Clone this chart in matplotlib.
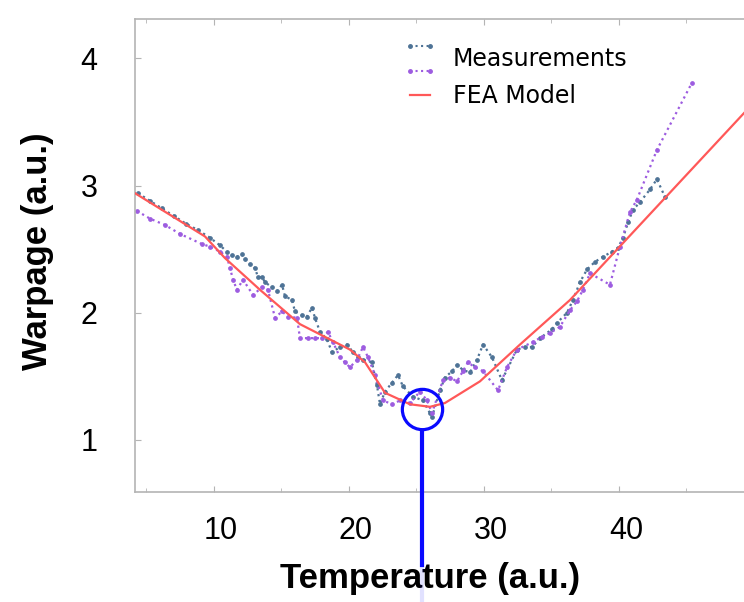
import matplotlib
matplotlib.use("Agg")
import matplotlib.pyplot as plt
from matplotlib.lines import Line2D
from matplotlib.transforms import ScaledTranslation

plt.rcParams['font.family'] = ['Liberation Sans', 'DejaVu Sans']

# measurement run 1 (blue-grey)
temp_a = [4.37, 5.26, 6.15, 7.04, 7.93, 8.81, 9.70, 10.44, 10.96, 11.33, 11.70, 12.07,
          12.30, 12.67, 13.04, 13.26, 13.56, 13.78, 14.30, 14.67, 15.04, 15.26, 15.78,
          16.00, 16.52, 16.89, 17.26, 17.48, 17.85, 18.37, 18.74, 19.33, 19.85, 20.30,
          20.67, 21.04, 21.70, 22.07, 22.30, 22.67, 23.19, 23.63, 24.00, 24.74, 25.48,
          26.00, 26.15, 26.74, 27.11, 27.63, 28.00, 28.44, 28.96, 29.48, 29.93, 30.59,
          31.33, 32.44, 33.04, 33.56, 34.15, 35.04, 35.41, 36.15, 36.59, 37.11, 37.63,
          38.22, 38.81, 39.48, 39.93, 40.30, 40.67, 41.04, 41.56, 42.30, 42.81, 43.41]
warp_a = [2.94, 2.88, 2.82, 2.76, 2.70, 2.65, 2.59, 2.53, 2.48, 2.45, 2.44, 2.46,
          2.42, 2.38, 2.35, 2.28, 2.28, 2.24, 2.20, 2.17, 2.22, 2.13, 2.10,
          2.01, 1.98, 1.97, 2.04, 1.96, 1.85, 1.79, 1.69, 1.73, 1.75, 1.69,
          1.65, 1.63, 1.61, 1.43, 1.28, 1.38, 1.45, 1.51, 1.42, 1.34, 1.31,
          1.21, 1.18, 1.39, 1.49, 1.54, 1.59, 1.55, 1.53, 1.63, 1.75, 1.65,
          1.47, 1.71, 1.73, 1.73, 1.80, 1.87, 1.92, 2.00, 2.10, 2.24, 2.34,
          2.40, 2.44, 2.48, 2.51, 2.59, 2.71, 2.81, 2.87, 2.97, 3.05, 2.91]

# measurement run 2 (purple)
temp_b = [4.30, 5.26, 6.37, 7.48, 9.11, 9.70, 10.44, 10.96, 11.19, 11.41, 11.70, 12.15,
          12.89, 13.56, 14.00, 14.52, 15.04, 15.48, 16.15, 16.37, 16.96, 17.48, 18.00,
          18.44, 18.81, 19.33, 19.70, 20.07, 20.59, 21.04, 21.41, 21.93, 22.52, 23.19,
          23.78, 24.52, 25.26, 25.78, 26.15, 26.96, 27.48, 28.00, 28.44, 28.81, 29.33,
          29.93, 31.04, 31.70, 32.44, 33.63, 34.30, 34.89, 35.63, 36.37, 36.89, 37.33,
          37.85, 39.33, 40.07, 40.81, 41.33, 42.81, 45.41]
warp_b = [2.80, 2.74, 2.69, 2.62, 2.54, 2.52, 2.48, 2.44, 2.35, 2.26, 2.18, 2.26,
          2.14, 2.20, 2.18, 1.96, 2.01, 1.97, 1.96, 1.80, 1.80, 1.80, 1.80,
          1.85, 1.77, 1.65, 1.61, 1.57, 1.63, 1.73, 1.65, 1.51, 1.31, 1.28,
          1.31, 1.29, 1.38, 1.31, 1.21, 1.47, 1.49, 1.46, 1.54, 1.61, 1.57,
          1.54, 1.39, 1.57, 1.71, 1.77, 1.81, 1.84, 1.89, 2.02, 2.09, 2.18,
          2.31, 2.22, 2.52, 2.79, 2.89, 3.28, 3.81]

# FEA model
temp_fea = [4.15, 9.33, 10.81, 13.41, 16.37, 20.07, 21.19, 22.67, 24.52, 26.00,
            27.11, 29.70, 32.67, 36.37, 49.26]
warp_fea = [2.94, 2.60, 2.43, 2.18, 1.91, 1.71, 1.61, 1.37, 1.28, 1.26,
            1.29, 1.46, 1.75, 2.10, 3.57]

# highlighted minimum
min_temp = 25.4
min_warp = 1.24

x_ticks = [10, 20, 30, 40]
y_ticks = [1, 2, 3, 4]

col_a = '#4e7396'
col_b = '#9d5ce0'
col_fea = '#ff5858'
col_mark = '#0a0aff'


class TwoLineHandler:
    # draws the two measurement handles stacked above each other
    def legend_artist(self, legend, orig_handle, fontsize, handlebox):
        x0 = -handlebox.xdescent
        y0 = -handlebox.ydescent
        w = handlebox.width
        yc = y0 + handlebox.height / 2
        for i, src in enumerate(orig_handle):
            yy = yc + (1 if i == 0 else -1) * 9
            ln = Line2D([x0, x0 + w], [yy, yy], color=src.get_color(), linestyle=':',
                        linewidth=1.5, marker='o', markersize=2.5)
            handlebox.add_artist(ln)
        return handlebox


fig = plt.figure(figsize=(7.44, 6.02), dpi=100)
ax = fig.add_axes([135 / 744, 110 / 602, 1 - 135 / 744, 473 / 602])

la, = ax.plot(temp_a, warp_a, color=col_a, linestyle=':', linewidth=1.6,
              marker='o', markersize=2.4, zorder=2)
lb, = ax.plot(temp_b, warp_b, color=col_b, linestyle=':', linewidth=1.6,
              marker='o', markersize=2.4, zorder=2)
lf, = ax.plot(temp_fea, warp_fea, color=col_fea, linewidth=1.6, zorder=3)

# circle + pointer at the minimum
ax.plot(min_temp, min_warp, 'o', markersize=29, markerfacecolor='none',
        markeredgecolor=col_mark, markeredgewidth=2.3, zorder=5)
ax.plot([min_temp, min_temp], [min_warp - 0.185, min_warp - 1.225], color=col_mark,
        linewidth=3, clip_on=False, zorder=5)
ax.plot([min_temp, min_temp], [min_warp - 1.225, min_warp - 1.53], color=col_mark,
        linewidth=3, alpha=0.12, clip_on=False, zorder=5)

ax.set_xlim(4.15, 49.26)
ax.set_ylim(0.59, 4.31)
ax.set_xticks(x_ticks)
ax.set_xticks([5, 15, 25, 35, 45], minor=True)
ax.set_yticks(y_ticks)

for side in ['left', 'bottom', 'top']:
    ax.spines[side].set_color('#b4b4b4')
    ax.spines[side].set_linewidth(1.2)
ax.spines['right'].set_visible(False)

ax.tick_params(axis='both', which='both', direction='in', color='#b4b4b4', length=4)
ax.tick_params(axis='x', which='both', top=True, labelsize=22, pad=17)
ax.tick_params(axis='x', which='minor', length=3)
ax.tick_params(axis='y', labelsize=22, pad=27)

# x labels sit a little right of their ticks in the original
shift = ScaledTranslation(7 / 100, 0, fig.dpi_scale_trans)
for lbl in ax.get_xticklabels():
    lbl.set_transform(lbl.get_transform() + shift)

ax.set_xlabel('Temperature (a.u.)', fontsize=25, fontweight='bold')
ax.set_ylabel('Warpage (a.u.)', fontsize=25, fontweight='bold')
ax.xaxis.set_label_coords(0.484, -0.148)
ax.yaxis.set_label_coords(-0.133, 0.51)

ax.legend([(la, lb), lf], ['Measurements', 'FEA Model'],
          handler_map={tuple: TwoLineHandler()}, loc='upper left',
          bbox_to_anchor=(0.4516, 0.94), frameon=False, borderpad=0, borderaxespad=0,
          handlelength=0.85, handletextpad=0.95, labelspacing=0.55,
          prop={'family': 'DejaVu Sans', 'size': 17})

fig.savefig('out.png', dpi=100)
